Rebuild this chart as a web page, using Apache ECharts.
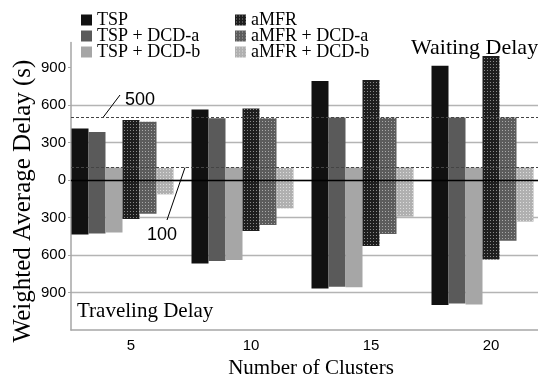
<!DOCTYPE html>
<html>
<head>
<meta charset="utf-8">
<script src="https://cdn.jsdelivr.net/npm/echarts@6/dist/echarts.min.js"></script>
<style>
html, body { margin: 0; padding: 0; background: #fff; }
#chart { width: 538px; height: 381px; }
</style>
</head>
<body>
<div id="chart"></div>
<script>
const clusters = ['5', '10', '15', '20'];
const yTicks = [-900, -600, -300, 0, 300, 600, 900];
const refLines = [500, 100];

// waiting delay (drawn above zero)
const waitTSP   = [413, 565, 792, 915];
const waitTSPa  = [384, 495, 500, 500];
const waitTSPb  = [100, 100, 100, 100];
const waitAMFR  = [480, 573, 800, 992];
const waitAMFRa = [467, 495, 498, 500];
const waitAMFRb = [95, 95, 100, 100];

// traveling delay (drawn below zero)
const travTSP   = [435, 667, 867, 1000];
const travTSPa  = [427, 648, 853, 987];
const travTSPb  = [419, 640, 858, 995];
const travAMFR  = [312, 408, 528, 635];
const travAMFRa = [270, 360, 432, 485];
const travAMFRb = [115, 227, 293, 333];

const serif = "'Liberation Serif', serif";
const sans = "'Liberation Sans', sans-serif";

// small dotted texture like the aMFR bars
function dots(bg, fg) {
    const c = document.createElement('canvas');
    c.width = 3; c.height = 3;
    const g = c.getContext('2d');
    g.fillStyle = bg; g.fillRect(0, 0, 3, 3);
    g.fillStyle = fg; g.fillRect(1, 1, 1, 1);
    return { image: c, repeat: 'repeat' };
}

const groups = [
    { name: 'TSP',          wait: waitTSP,   trav: travTSP,   color: '#111111' },
    { name: 'TSP + DCD-a',  wait: waitTSPa,  trav: travTSPa,  color: '#5a5a5a' },
    { name: 'TSP + DCD-b',  wait: waitTSPb,  trav: travTSPb,  color: '#a6a6a6' },
    { name: 'aMFR',         wait: waitAMFR,  trav: travAMFR,  color: dots('#1e1e1e', '#8a8a8a') },
    { name: 'aMFR + DCD-a', wait: waitAMFRa, trav: travAMFRa, color: dots('#5c5c5c', '#a8a8a8') },
    { name: 'aMFR + DCD-b', wait: waitAMFRb, trav: travAMFRb, color: dots('#b0b0b0', '#dcdcdc') }
];

const series = [];
groups.forEach(function (g) {
    [g.wait, g.trav.map(function (v) { return -v; })].forEach(function (d) {
        series.push({
            type: 'bar', name: g.name, stack: g.name, data: d,
            barWidth: 17, barGap: '0%',
            itemStyle: { color: g.color }
        });
    });
});
// empty slot so the six bars sit at the left of each category, like the original
series.push({
    type: 'bar', name: 'gap', stack: 'gap', data: clusters.map(function () { return '-'; }),
    barWidth: 17, barGap: '0%', silent: true,
    markLine: {
        silent: true, symbol: ['none', 'none'], label: { show: false },
        lineStyle: { color: '#444', type: [3, 2], width: 1 },
        data: [{ yAxis: 0, lineStyle: { color: '#000', type: 'solid', width: 1.3 } }]
            .concat(refLines.map(function (v) { return { yAxis: v }; }))
    }
});

const legendText = { fontFamily: serif, fontSize: 18, color: '#000' };

let chart = echarts.init(document.getElementById('chart'));
chart.setOption({
    animation: false,
    backgroundColor: '#fff',
    grid: { left: 71, right: -13, top: 42.5, bottom: 51, outerBoundsMode: 'none', containLabel: false },
    legend: [
        { data: groups.slice(0, 3).map(function (g) { return g.name; }), orient: 'vertical',
          left: 81, top: 11, padding: 0, itemWidth: 11, itemHeight: 11, itemGap: -2, icon: 'rect', textStyle: legendText },
        { data: groups.slice(3).map(function (g) { return g.name; }), orient: 'vertical',
          left: 235, top: 11, padding: 0, itemWidth: 11, itemHeight: 11, itemGap: -2, icon: 'rect', textStyle: legendText }
    ],
    xAxis: {
        type: 'category', data: clusters,
        axisLine: { onZero: false, lineStyle: { color: '#a6a6a6', width: 1.5 } },
        axisTick: { show: false },
        axisLabel: { fontFamily: sans, fontSize: 15, color: '#000', margin: 8 },
        name: 'Number of Clusters', nameLocation: 'middle', nameGap: 27,
        nameTextStyle: { fontFamily: serif, fontSize: 21, color: '#000' }
    },
    yAxis: {
        type: 'value', min: -1200, max: 1100, interval: 300,
        axisLine: { show: true, lineStyle: { color: '#a6a6a6', width: 1.5 } },
        axisTick: { show: true, length: 3, customValues: yTicks, lineStyle: { color: '#a6a6a6' } },
        axisLabel: { customValues: yTicks, formatter: function (v) { return Math.abs(v); },
                     fontFamily: sans, fontSize: 15, color: '#000', margin: 5 },
        splitLine: { showMaxLine: false, lineStyle: { color: '#b4b4b4', width: 1.3 } }
    },
    series: series
});

// text notes and leader lines, tied to the reference lines
const y500 = chart.convertToPixel({ yAxisIndex: 0 }, refLines[0]);
const y100 = chart.convertToPixel({ yAxisIndex: 0 }, refLines[1]);
chart.setOption({
    graphic: [
        { type: 'text', x: 23, y: 201, rotation: Math.PI / 2,
          style: { text: 'Weighted Average Delay (s)', font: "25px 'Liberation Serif'", fill: '#000', align: 'center', verticalAlign: 'middle' } },
        { type: 'text', left: 411, top: 37, style: { text: 'Waiting Delay', font: "22px 'Liberation Serif'", fill: '#000' } },
        { type: 'text', left: 77, top: 301, style: { text: 'Traveling Delay', font: "21px 'Liberation Serif'", fill: '#000' } },
        { type: 'text', left: 125, top: 91, style: { text: '500', font: "18px 'Liberation Sans'", fill: '#000' } },
        { type: 'text', left: 147, top: 226, style: { text: '100', font: "18px 'Liberation Sans'", fill: '#000' } },
        { type: 'line', shape: { x1: 120, y1: 95, x2: 103, y2: y500 }, style: { stroke: '#000', lineWidth: 1 } },
        { type: 'line', shape: { x1: 167, y1: 220, x2: 185, y2: y100 }, style: { stroke: '#000', lineWidth: 1 } }
    ]
});
window.onresize = chart.resize;
</script>
</body>
</html>
